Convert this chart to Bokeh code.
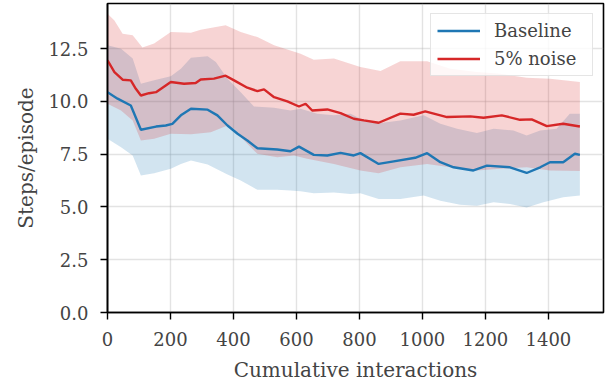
from bokeh.plotting import figure
from bokeh.models import Range1d, FixedTicker, NumeralTickFormatter, Legend, LegendItem
from bokeh.embed import file_html
from bokeh.resources import INLINE

# Baseline mean
base_x = [0, 32, 74, 106, 154, 185, 206, 233, 265, 318, 349, 381, 413, 444, 476, 539, 581, 608, 655, 698,
          740, 782, 803, 861, 909, 977, 1015, 1057, 1099, 1162, 1205, 1278, 1331, 1374, 1405, 1447, 1484, 1500]
base_y = [10.44, 10.13, 9.81, 8.66, 8.81, 8.86, 8.94, 9.34, 9.65, 9.61, 9.34, 8.86, 8.47, 8.15, 7.78, 7.72,
          7.64, 7.86, 7.47, 7.44, 7.56, 7.44, 7.55, 7.04, 7.16, 7.33, 7.55, 7.12, 6.88, 6.73, 6.96, 6.88, 6.61,
          6.88, 7.12, 7.12, 7.52, 7.47]

# Baseline band
base_up_x = [0, 43, 80, 106, 148, 201, 233, 265, 318, 344, 381, 423, 465, 529, 581, 613, 666, 719, 772, 803,
             861, 930, 1004, 1057, 1110, 1173, 1226, 1289, 1331, 1374, 1426, 1468, 1500]
base_up_y = [12.66, 12.5, 12.03, 10.84, 11.0, 11.19, 11.55, 12.07, 12.14, 11.87, 11.08, 10.44, 9.76, 9.70,
             9.57, 9.65, 9.42, 9.34, 9.42, 9.18, 8.97, 9.10, 9.34, 8.94, 8.70, 8.50, 8.70, 8.62, 8.39, 8.62,
             8.70, 9.42, 9.42]
base_lo_x = [0, 43, 80, 106, 148, 201, 233, 265, 318, 381, 423, 476, 539, 581, 613, 655, 719, 772, 803, 861,
             930, 1004, 1057, 1120, 1173, 1226, 1278, 1331, 1384, 1447, 1500]
base_lo_y = [8.23, 7.83, 7.44, 6.49, 6.60, 6.81, 7.04, 7.20, 7.01, 6.54, 6.25, 5.81, 5.81, 5.78, 5.74, 5.65,
             5.69, 5.62, 5.65, 5.38, 5.38, 5.54, 5.30, 5.11, 5.06, 5.22, 5.14, 4.98, 5.22, 5.46, 5.54]

# 5% noise mean
noise_x = [0, 22, 48, 74, 90, 106, 132, 154, 201, 243, 280, 296, 338, 375, 402, 444, 476, 497, 529, 571, 608,
           629, 650, 698, 740, 782, 814, 861, 930, 972, 1009, 1078, 1152, 1194, 1252, 1310, 1347, 1395, 1447, 1500]
noise_y = [11.95, 11.39, 11.03, 11.0, 10.60, 10.28, 10.39, 10.44, 10.92, 10.84, 10.87, 11.04, 11.08, 11.22,
           11.0, 10.65, 10.49, 10.57, 10.20, 10.0, 9.76, 9.89, 9.57, 9.62, 9.45, 9.18, 9.10, 8.99, 9.42, 9.37,
           9.53, 9.26, 9.29, 9.23, 9.34, 9.13, 9.15, 8.83, 8.94, 8.81]

# 5% noise band
noise_up_x = [0, 22, 48, 80, 111, 148, 201, 265, 296, 375, 423, 476, 529, 613, 655, 719, 803, 867, 930, 1015,
              1088, 1173, 1247, 1331, 1405, 1500]
noise_up_y = [14.16, 13.84, 13.21, 13.13, 12.55, 12.74, 13.29, 13.25, 13.40, 13.61, 13.29, 13.05, 12.66,
              12.26, 11.98, 12.03, 11.63, 11.44, 11.90, 11.90, 11.55, 11.39, 11.31, 11.12, 11.08, 10.92]
noise_lo_x = [0, 43, 80, 106, 148, 201, 265, 328, 381, 402, 423, 476, 539, 592, 634, 719, 803, 861, 930, 1015,
              1088, 1173, 1247, 1331, 1405, 1500]
noise_lo_y = [9.89, 9.57, 9.10, 8.15, 8.23, 8.47, 8.44, 8.54, 8.86, 8.70, 8.31, 7.52, 7.36, 7.44, 7.28, 7.04,
              6.73, 6.60, 6.88, 7.04, 6.88, 6.73, 6.81, 6.88, 6.73, 6.70]

x_ticks = [0, 200, 400, 600, 800, 1000, 1200, 1400]
y_ticks = [0.0, 2.5, 5.0, 7.5, 10.0, 12.5]
series_labels = ["Baseline", "5% noise"]

BLUE = "#1f77b4"
RED = "#d62728"
FONT = "DejaVu Serif"

p = figure(width=616, height=387, output_backend="svg", toolbar_location=None,
           x_range=Range1d(0, 1575), y_range=Range1d(0, 14.64),
           min_border_left=107, min_border_right=13, min_border_top=3, min_border_bottom=75)

p.patch(base_up_x + base_lo_x[::-1], base_up_y + base_lo_y[::-1], color=BLUE, alpha=0.2, line_width=0)
p.patch(noise_up_x + noise_lo_x[::-1], noise_up_y + noise_lo_y[::-1], color=RED, alpha=0.2, line_width=0)
l1 = p.line(base_x, base_y, line_color=BLUE, line_width=2.4)
l2 = p.line(noise_x, noise_y, line_color=RED, line_width=2.4)

legend = Legend(items=[LegendItem(label=series_labels[0], renderers=[l1]),
                       LegendItem(label=series_labels[1], renderers=[l2])],
                location="top_right")
legend.label_text_font = FONT
legend.label_text_font_size = "18px"
legend.border_line_color = "#cccccc"
legend.border_line_width = 1.2
legend.background_fill_alpha = 0.8
legend.glyph_width = 43
legend.glyph_height = 21
legend.label_height = 21
legend.label_width = 92
legend.spacing = 7
legend.margin = 10
legend.padding = 6
legend.label_standoff = 14
p.add_layout(legend)

p.outline_line_color = "black"
p.outline_line_width = 1.6
p.background_fill_color = "white"

for ax in (p.xaxis, p.yaxis):
    ax.axis_line_color = "black"
    ax.axis_line_width = 1.6
    ax.major_tick_line_width = 1.4
    ax.major_tick_out = 7
    ax.major_tick_in = 0
    ax.minor_tick_line_color = None
    ax.major_label_text_font = FONT
    ax.major_label_text_font_size = "18px"
    ax.major_label_standoff = 12
    ax.axis_label_text_font = FONT
    ax.axis_label_text_font_size = "20px"
    ax.axis_label_text_font_style = "normal"

p.xaxis.axis_label_standoff = 9
p.yaxis.axis_label_standoff = 7
p.xaxis.ticker = FixedTicker(ticks=x_ticks)
p.yaxis.ticker = FixedTicker(ticks=y_ticks)
p.yaxis.formatter = NumeralTickFormatter(format="0.0")
p.xaxis.axis_label = "Cumulative interactions"
p.yaxis.axis_label = "Steps/episode"

p.xgrid.ticker = FixedTicker(ticks=x_ticks)
p.ygrid.ticker = FixedTicker(ticks=y_ticks)
for g in (p.xgrid, p.ygrid):
    g.grid_line_color = "#b0b0b0"
    g.grid_line_alpha = 0.35
    g.grid_line_width = 1.4

open("out.html", "w").write(file_html(p, INLINE))
